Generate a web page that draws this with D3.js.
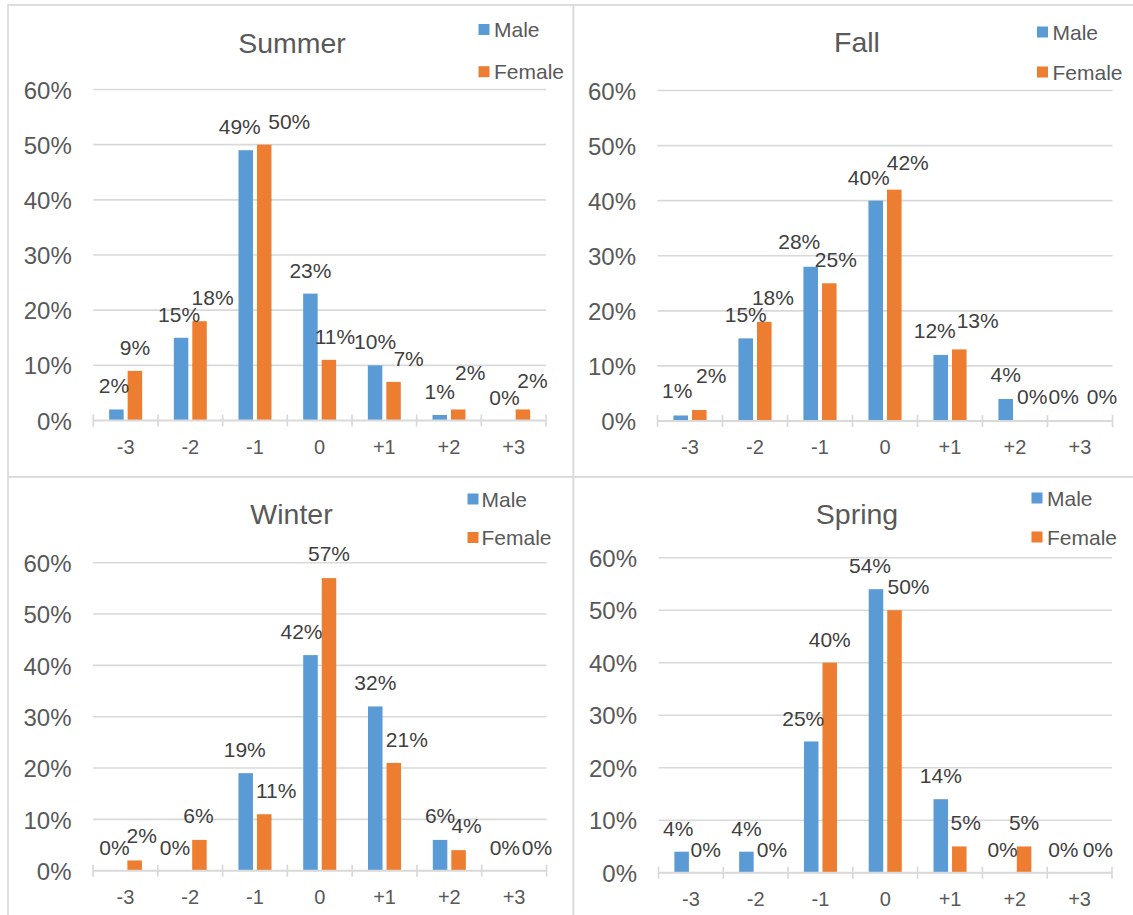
<!DOCTYPE html>
<html>
<head>
<meta charset="utf-8">
<script src="https://cdn.jsdelivr.net/npm/d3@7"></script>
<style>
  html, body { margin: 0; padding: 0; background: #ffffff; }
  svg { display: block; font-family: "Liberation Sans", Arial, Helvetica, sans-serif; }
</style>
</head>
<body>
<svg id="chart" width="1133" height="915"></svg>
<script>
// Thermal sensation votes by season and gender (share of respondents)
const categories = ["-3", "-2", "-1", "0", "+1", "+2", "+3"];
const seriesNames = ["Male", "Female"];
const yTicks = [0, 0.1, 0.2, 0.3, 0.4, 0.5, 0.6];

const summerMale   = [0.02, 0.15, 0.49, 0.23, 0.10, 0.01, 0.00];
const summerFemale = [0.09, 0.18, 0.50, 0.11, 0.07, 0.02, 0.02];
const fallMale     = [0.01, 0.15, 0.28, 0.40, 0.12, 0.04, 0.00];
const fallFemale   = [0.02, 0.18, 0.25, 0.42, 0.13, 0.00, 0.00];
const winterMale   = [0.00, 0.00, 0.19, 0.42, 0.32, 0.06, 0.00];
const winterFemale = [0.02, 0.06, 0.11, 0.57, 0.21, 0.04, 0.00];
const springMale   = [0.04, 0.04, 0.25, 0.54, 0.14, 0.00, 0.00];
const springFemale = [0.00, 0.00, 0.40, 0.50, 0.05, 0.05, 0.00];

const colors = { Male: "#5B9BD5", Female: "#ED7D31" };
const gridColor = "#d9d9d9";
const textColor = "#595959";
const labelColor = "#404040";

// Panel layout; label nudges are [dx, extra lift] per category for Male / Female
const panels = [
  {
    title: "Summer", male: summerMale, female: summerFemale,
    box: { x: 8, y: 5, w: 565.5, h: 472 },
    plot: { x0: 93.3, x1: 546, yTop: 89.5, yBase: 420.5 },
    titlePos: { x: 292, y: 52.5 },
    legend: { x: 478.5, y1: 29.5, y2: 71.7, tx: 494 },
    nudge: {
      Male:   [[-2.5, 0], [-2, 0], [-6, 0], [0, 0], [0, 0], [0, 0], [0, 0]],
      Female: [[0, 0], [13, 0], [25, 0], [6, 0], [15, 0], [12, 13], [9.5, 5]]
    }
  },
  {
    title: "Fall", male: fallMale, female: fallFemale,
    box: { x: 573.5, y: 5, w: 600, h: 472 },
    plot: { x0: 657.5, x1: 1112.5, yTop: 90.5, yBase: 421 },
    titlePos: { x: 857, y: 52 },
    legend: { x: 1037, y1: 32, y2: 72, tx: 1052.5 },
    nudge: {
      Male:   [[-3.5, 1], [0, 0.5], [-11.5, 2], [-7, 0], [-6, 0.5], [0, 1], [-7, 1]],
      Female: [[12, 10.5], [8.6, 0.5], [6.5, 0.5], [13.5, 4], [18.4, 5], [8, 1], [12.6, 1]]
    }
  },
  {
    title: "Winter", male: winterMale, female: winterFemale,
    box: { x: 8, y: 477, w: 565.5, h: 460 },
    plot: { x0: 93, x1: 546.5, yTop: 562.7, yBase: 870.7 },
    titlePos: { x: 291.5, y: 524 },
    legend: { x: 467.5, y1: 499, y2: 537.5, tx: 481.5 },
    nudge: {
      Male:   [[-1.7, 0], [-6, 0], [-1, 0.5], [-9, 0], [0, 0.5], [0, 0.5], [0, 0]],
      Female: [[7, 1], [-1, 0.5], [12, 0.5], [0, 1], [13, 0], [8, 1], [13.6, 0]]
    }
  },
  {
    title: "Spring", male: springMale, female: springFemale,
    box: { x: 573.5, y: 477, w: 600, h: 460 },
    plot: { x0: 658.5, x1: 1112, yTop: 557.7, yBase: 872.7 },
    titlePos: { x: 857, y: 523.5 },
    legend: { x: 1031.5, y1: 498, y2: 537, tx: 1047 },
    nudge: {
      Male:   [[-3.5, 0], [0, 0], [-8, -1], [-6, 0], [0, 0.5], [-3, 0], [-7, 0]],
      Female: [[5.5, 0], [7, 0], [0, 0], [14, 0], [6.5, 0], [0, 0], [9, 0]]
    }
  }
];

const svg = d3.select("#chart");

// Panel frames
svg.append("g").selectAll("rect")
  .data(panels)
  .join("rect")
  .attr("x", d => d.box.x)
  .attr("y", d => d.box.y)
  .attr("width", d => d.box.w)
  .attr("height", d => d.box.h)
  .attr("fill", "#ffffff")
  .attr("stroke", gridColor)
  .attr("stroke-width", 1.7);

panels.forEach(p => {
  const g = svg.append("g").attr("class", "panel");

  const x = d3.scaleBand().domain(categories).range([p.plot.x0, p.plot.x1]).padding(0);
  const y = d3.scaleLinear().domain([0, 0.6]).range([p.plot.yBase, p.plot.yTop]);

  const groupW = x.bandwidth() * 0.51;
  const xs = d3.scaleBand().domain(seriesNames).range([-groupW / 2, groupW / 2])
    .paddingInner(0.216).paddingOuter(0);

  // Gridlines (above zero)
  g.append("g").selectAll("line")
    .data(yTicks.filter(t => t > 0))
    .join("line")
    .attr("x1", p.plot.x0).attr("x2", p.plot.x1)
    .attr("y1", d => y(d)).attr("y2", d => y(d))
    .attr("stroke", gridColor).attr("stroke-width", 1.6);

  // Y axis labels
  const yAxis = d3.axisLeft(y).tickValues(yTicks).tickFormat(d3.format(".0%"))
    .tickSize(0).tickPadding(21.5);
  const yg = g.append("g").attr("transform", `translate(${p.plot.x0},0)`).call(yAxis);
  yg.select(".domain").remove();
  yg.selectAll("text")
    .attr("fill", textColor)
    .attr("font-size", 24)
    .attr("font-family", "'Liberation Sans', Arial, sans-serif")
    .attr("dy", "0.36em");

  // Bars
  const rows = categories.map((c, i) => ({
    cat: c, i,
    values: [
      { key: "Male", v: p.male[i] },
      { key: "Female", v: p.female[i] }
    ]
  }));

  const groups = g.append("g").selectAll("g")
    .data(rows)
    .join("g")
    .attr("transform", d => `translate(${x(d.cat) + x.bandwidth() / 2},0)`);

  groups.selectAll("rect")
    .data(d => d.values)
    .join("rect")
    .attr("x", d => xs(d.key))
    .attr("width", xs.bandwidth())
    .attr("y", d => y(d.v))
    .attr("height", d => y(0) - y(d.v))
    .attr("fill", d => colors[d.key]);

  // X axis with crossing tick marks at category boundaries
  const ax = g.append("g");
  ax.append("line")
    .attr("x1", p.plot.x0).attr("x2", p.plot.x1)
    .attr("y1", y(0)).attr("y2", y(0))
    .attr("stroke", gridColor).attr("stroke-width", 2);
  const bounds = categories.map(c => x(c)).concat([p.plot.x1]);
  ax.selectAll("line.tick")
    .data(bounds)
    .join("line")
    .attr("class", "tick")
    .attr("x1", d => d).attr("x2", d => d)
    .attr("y1", y(0) - 6).attr("y2", y(0) + 6)
    .attr("stroke", gridColor).attr("stroke-width", 1.7);
  ax.selectAll("text")
    .data(categories)
    .join("text")
    .attr("x", d => x(d) + x.bandwidth() / 2)
    .attr("y", y(0) + 33)
    .attr("text-anchor", "middle")
    .attr("font-size", 20)
    .attr("fill", textColor)
    .text(d => d);

  // Data labels
  const fmt = d3.format(".0%");
  groups.selectAll("text")
    .data(d => d.values.map(v => ({ ...v, i: d.i })))
    .join("text")
    .attr("x", d => xs(d.key) + xs.bandwidth() / 2 + p.nudge[d.key][d.i][0])
    .attr("y", d => y(d.v) - 16 - p.nudge[d.key][d.i][1])
    .attr("text-anchor", "middle")
    .attr("font-size", 21)
    .attr("fill", labelColor)
    .text(d => fmt(d.v));

  // Title
  g.append("text")
    .attr("x", p.titlePos.x)
    .attr("y", p.titlePos.y)
    .attr("text-anchor", "middle")
    .attr("font-size", 28.5)
    .attr("fill", textColor)
    .text(p.title);

  // Legend
  const lg = g.append("g");
  const items = [
    { key: "Male", cy: p.legend.y1 },
    { key: "Female", cy: p.legend.y2 }
  ];
  lg.selectAll("rect")
    .data(items)
    .join("rect")
    .attr("x", p.legend.x)
    .attr("y", d => d.cy - 5.5)
    .attr("width", 11)
    .attr("height", 11)
    .attr("fill", d => colors[d.key]);
  lg.selectAll("text")
    .data(items)
    .join("text")
    .attr("x", p.legend.tx)
    .attr("y", d => d.cy)
    .attr("dy", "0.36em")
    .attr("font-size", 21)
    .attr("fill", textColor)
    .text(d => d.key);
});
</script>
</body>
</html>
